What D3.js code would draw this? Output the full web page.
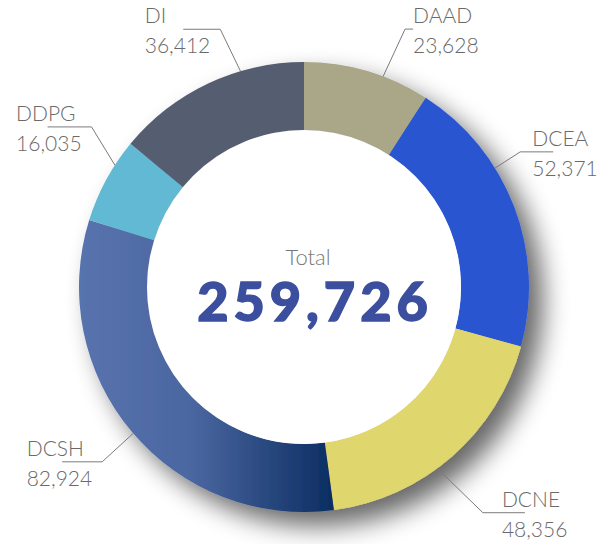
<!DOCTYPE html>
<html>
<head>
<meta charset="utf-8">
<script src="https://cdn.jsdelivr.net/npm/d3@7"></script>
<style>
  body { margin: 0; background: #fff; }
  .lbl { font-family: Lato, "Open Sans", sans-serif; font-weight: 300; font-size: 21px; fill: #6a6a6a; }
  .total-label { font-family: Lato, "Open Sans", sans-serif; font-weight: 300; font-size: 22px; fill: #777; }
  .total-value { font-family: Lato, "Open Sans", sans-serif; font-weight: 900; font-size: 54px; fill: #3c4f9e; stroke: #3c4f9e; stroke-width: 1.4px; letter-spacing: 5px; }
</style>
</head>
<body>
<div id="container"></div>
<script>
/* DATA */
const categories = ["DAAD", "DCEA", "DCNE", "DCSH", "DDPG", "DI"];
const values = [23628, 52371, 48356, 82924, 16035, 36412];
const colors = ["#a9a787", "#2a55d0", "#e0d66e", "url(#dcshGrad)", "#62b9d3", "#555d70"];

/* LAYOUT */
const width = 599, height = 544;
const cx = 304, cy = 287, outerR = 225, innerR = 157;
// label placement: angle where the leader leaves the ring, angle/radius of the elbow,
// length of the horizontal hook, gap between elbow and text block
const leaderStart = [20.6, 58.1, 143.7, 229.4, 302.8, 343.6];
const elbowAngle = [21.4, 58, 141.6, 229.1, 307, 342];
const elbowR = [277, 255, 288, 267, 266, 271];
const hookLen = [8, 33, 42, 40, 44, 37];
const textGap = [8, 12, 19, 10, 10, 10];

const fmt = d3.format(",");
const total = d3.sum(values);

const svg = d3.select("#container")
  .append("svg")
  .attr("width", width)
  .attr("height", height);

const defs = svg.append("defs");

// soft shadow falling to the lower right of the ring
const shadow = defs.append("filter")
  .attr("id", "ringShadow")
  .attr("x", "-30%").attr("y", "-30%")
  .attr("width", "160%").attr("height", "160%");
shadow.append("feGaussianBlur")
  .attr("in", "SourceAlpha")
  .attr("stdDeviation", 13)
  .attr("result", "blur");
shadow.append("feOffset")
  .attr("dx", 14).attr("dy", 14)
  .attr("result", "off");
shadow.append("feComponentTransfer")
  .append("feFuncA").attr("type", "linear").attr("slope", 0.6);
const merge = shadow.append("feMerge");
merge.append("feMergeNode");
merge.append("feMergeNode").attr("in", "SourceGraphic");

const data = categories.map((c, i) => ({ name: c, value: values[i], color: colors[i] }));

const pie = d3.pie().sort(null).value(d => d.value);
const arcs = pie(data);
const arcGen = d3.arc().innerRadius(innerR).outerRadius(outerR);

// gradient for DCSH runs left to right across its own extent (ring coordinates)
const dcsh = arcs[3];
const angs = d3.range(dcsh.startAngle, dcsh.endAngle, 0.01).concat([dcsh.endAngle]);
const xs = angs.flatMap(a => [outerR * Math.sin(a), innerR * Math.sin(a)]);
const grad = defs.append("linearGradient")
  .attr("id", "dcshGrad")
  .attr("gradientUnits", "userSpaceOnUse")
  .attr("x1", d3.min(xs)).attr("x2", d3.max(xs))
  .attr("y1", 0).attr("y2", 0);
grad.append("stop").attr("offset", "0%").attr("stop-color", "#5873ad");
grad.append("stop").attr("offset", "45%").attr("stop-color", "#4a66a0");
grad.append("stop").attr("offset", "100%").attr("stop-color", "#0b2d61");

const ring = svg.append("g")
  .attr("transform", `translate(${cx},${cy})`)
  .attr("filter", "url(#ringShadow)");

ring.selectAll("path")
  .data(arcs)
  .join("path")
  .attr("d", arcGen)
  .attr("fill", d => d.data.color);

// white hole on top so no shadow shows inside
svg.append("circle")
  .attr("cx", cx).attr("cy", cy)
  .attr("r", innerR)
  .attr("fill", "#fff");

/* LABELS */
const rad = a => a * Math.PI / 180;
const labels = svg.append("g");

data.forEach((d, i) => {
  const sa = rad(leaderStart[i]);
  const ea = rad(elbowAngle[i]);
  const p0 = [cx + outerR * Math.sin(sa), cy - outerR * Math.cos(sa)];
  const p1 = [cx + elbowR[i] * Math.sin(ea), cy - elbowR[i] * Math.cos(ea)];
  const right = Math.sin(ea) > 0;
  const p2 = [p1[0] + (right ? hookLen[i] : -hookLen[i]), p1[1]];

  labels.append("path")
    .attr("d", d3.line()([p0, p1, p2]))
    .attr("fill", "none")
    .attr("stroke", "#7b7b7b")
    .attr("stroke-width", 1);

  const name = labels.append("text")
    .attr("class", "lbl")
    .attr("y", p1[1] - 6)
    .text(d.name);
  const val = labels.append("text")
    .attr("class", "lbl")
    .attr("y", p1[1] + 24)
    .text(fmt(d.value));

  const w = Math.max(name.node().getComputedTextLength(), val.node().getComputedTextLength());
  const x0 = right ? p1[0] + textGap[i] : p1[0] - textGap[i] - w;
  name.attr("x", x0);
  val.attr("x", x0);
});

/* CENTER TEXT */
svg.append("text")
  .attr("class", "total-label")
  .attr("x", cx + 4)
  .attr("y", 265)
  .attr("text-anchor", "middle")
  .text("Total");

svg.append("text")
  .attr("class", "total-value")
  .attr("x", cx + 11)
  .attr("y", 321)
  .attr("text-anchor", "middle")
  .text(fmt(total));
</script>
</body>
</html>
